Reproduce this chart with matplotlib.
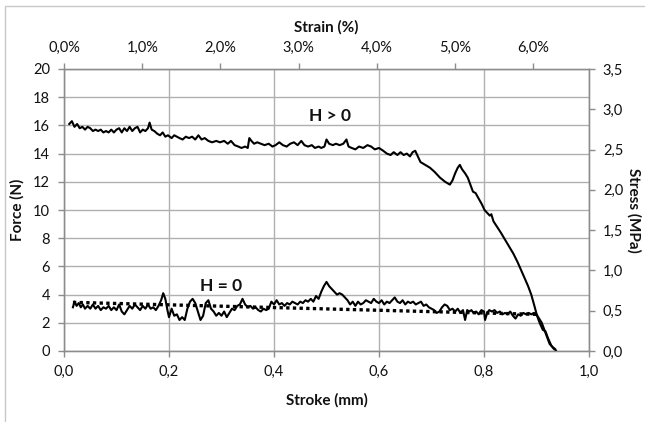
import matplotlib
matplotlib.use("Agg")
import matplotlib.pyplot as plt
from matplotlib.patches import Rectangle

# ---------------- data ----------------
hpos_x = [0.010, 0.015, 0.020, 0.025, 0.030, 0.035, 0.040, 0.045, 0.050, 0.055,
          0.060, 0.065, 0.070, 0.075, 0.080, 0.085, 0.090, 0.095, 0.100, 0.105,
          0.110, 0.115, 0.120, 0.125, 0.130, 0.135, 0.140, 0.145, 0.150, 0.155,
          0.160, 0.163, 0.167, 0.172, 0.178, 0.183, 0.188, 0.193, 0.198, 0.205,
          0.210, 0.215, 0.220, 0.226, 0.232, 0.238, 0.244, 0.250, 0.256, 0.262,
          0.268, 0.275, 0.282, 0.290, 0.297, 0.305, 0.312, 0.318, 0.325, 0.332,
          0.338, 0.345, 0.350, 0.353, 0.357, 0.362, 0.368, 0.375, 0.382, 0.390,
          0.397, 0.403, 0.410, 0.417, 0.424, 0.431, 0.438, 0.445, 0.452, 0.458,
          0.465, 0.472, 0.478, 0.485, 0.490, 0.496, 0.500, 0.505, 0.512, 0.518,
          0.525, 0.532, 0.538, 0.542, 0.548, 0.555, 0.562, 0.570, 0.578, 0.585,
          0.592, 0.600, 0.608, 0.615, 0.622, 0.628, 0.635, 0.641, 0.647, 0.653,
          0.659, 0.664, 0.669, 0.674, 0.679, 0.688, 0.697, 0.706, 0.716, 0.726,
          0.735, 0.740, 0.745, 0.750, 0.754, 0.758, 0.764, 0.769, 0.774, 0.779,
          0.784, 0.790, 0.796, 0.801, 0.806, 0.811, 0.814, 0.818, 0.825, 0.832,
          0.840, 0.848, 0.856, 0.864, 0.870, 0.877, 0.884, 0.890, 0.896, 0.901,
          0.906, 0.912, 0.917, 0.922, 0.928, 0.933, 0.937]
hpos_f = [16.1, 16.3, 15.9, 16.1, 15.8, 15.9, 15.7, 15.9, 15.8, 15.6,
          15.7, 15.6, 15.7, 15.5, 15.6, 15.5, 15.7, 15.5, 15.7, 15.8,
          15.5, 15.8, 15.6, 15.9, 15.6, 15.8, 15.9, 15.5, 15.7, 15.6,
          15.8, 16.2, 15.7, 15.6, 15.4, 15.3, 15.5, 15.2, 15.3, 15.1,
          15.3, 15.2, 15.1, 15.0, 15.2, 15.1, 15.2, 15.0, 15.3, 15.0,
          15.1, 14.9, 14.8, 14.9, 14.8, 14.9, 14.7, 14.9, 14.6, 14.5,
          14.4, 14.5, 14.4, 15.1, 14.9, 14.7, 14.8, 14.7, 14.6, 14.7,
          14.5, 14.6, 14.8, 14.6, 14.5, 14.7, 14.8, 14.6, 14.9, 14.6,
          14.5, 14.6, 14.4, 14.5, 14.4, 14.5, 15.0, 14.7, 14.6, 14.7,
          14.6, 14.7, 15.0, 14.5, 14.4, 14.3, 14.5, 14.4, 14.6, 14.5,
          14.3, 14.4, 14.2, 14.0, 13.9, 14.1, 13.9, 14.1, 13.9, 14.0,
          13.8, 14.1, 14.2, 13.8, 13.4, 13.2, 13.0, 12.7, 12.3, 12.0,
          11.8, 12.1, 12.6, 13.0, 13.2, 12.9, 12.6, 12.3, 11.8, 11.3,
          11.2, 10.8, 10.4, 10.0, 9.8, 9.6, 9.7, 9.2, 8.8, 8.4,
          7.9, 7.4, 6.9, 6.3, 5.8, 5.2, 4.6, 4.0, 3.2, 2.5,
          2.0, 1.5, 1.4, 0.9, 0.4, 0.15, 0.05]

hzero_x = [0.017, 0.020, 0.024, 0.028, 0.032, 0.036, 0.040, 0.045, 0.050, 0.055,
           0.060, 0.065, 0.070, 0.075, 0.080, 0.085, 0.090, 0.095, 0.100, 0.105,
           0.110, 0.115, 0.120, 0.125, 0.130, 0.135, 0.140, 0.145, 0.150, 0.155,
           0.160, 0.165, 0.170, 0.175, 0.180, 0.185, 0.189, 0.193, 0.197, 0.200,
           0.205, 0.210, 0.215, 0.220, 0.225, 0.230, 0.235, 0.240, 0.245, 0.250,
           0.255, 0.260, 0.265, 0.270, 0.275, 0.280, 0.285, 0.290, 0.295, 0.300,
           0.305, 0.310, 0.315, 0.320, 0.325, 0.330, 0.335, 0.340, 0.345, 0.350,
           0.355, 0.360, 0.365, 0.370, 0.375, 0.380, 0.385, 0.390, 0.395, 0.400,
           0.405, 0.410, 0.415, 0.420, 0.425, 0.430, 0.435, 0.440, 0.445, 0.450,
           0.455, 0.460, 0.465, 0.470, 0.475, 0.480, 0.485, 0.490, 0.495, 0.500,
           0.505, 0.510, 0.515, 0.520, 0.525, 0.530, 0.535, 0.540, 0.545, 0.550,
           0.555, 0.560, 0.565, 0.570, 0.575, 0.580, 0.585, 0.590, 0.595, 0.600,
           0.605, 0.610, 0.615, 0.620, 0.625, 0.630, 0.635, 0.640, 0.645, 0.650,
           0.655, 0.660, 0.665, 0.670, 0.675, 0.680, 0.685, 0.690, 0.695, 0.700,
           0.705, 0.710, 0.715, 0.720, 0.725, 0.730, 0.735, 0.740, 0.745, 0.750,
           0.755, 0.760, 0.764, 0.768, 0.772, 0.776, 0.780, 0.785, 0.790, 0.795,
           0.800, 0.802, 0.806, 0.810, 0.815, 0.820, 0.825, 0.830, 0.835, 0.840,
           0.845, 0.850, 0.855, 0.860, 0.865, 0.870, 0.875, 0.880, 0.885, 0.890,
           0.895, 0.900, 0.905, 0.910, 0.915, 0.920, 0.925, 0.930, 0.935]
hzero_f = [3.1, 3.5, 3.2, 3.4, 3.1, 3.3, 3.0, 3.2, 3.0, 3.3,
           3.0, 3.2, 2.9, 3.1, 3.0, 3.2, 2.9, 3.1, 2.9, 3.3,
           2.8, 2.6, 2.9, 3.2, 3.0, 3.3, 3.1, 2.9, 3.2, 3.0,
           3.3, 3.0, 3.1, 2.9, 3.2, 3.6, 4.1, 3.7, 2.9, 2.4,
           3.0, 2.5, 2.6, 2.2, 2.4, 2.2, 3.0, 3.5, 3.7, 3.4,
           2.8, 2.2, 2.5, 3.4, 3.6, 3.0, 2.8, 2.5, 2.7, 2.5,
           2.8, 2.4, 2.7, 3.0, 2.9, 3.2, 3.3, 3.7, 3.3, 3.1,
           3.2, 3.0, 3.1, 2.9, 2.8, 3.0, 2.9, 3.0, 3.5, 3.3,
           3.6, 3.3, 3.4, 3.2, 3.4, 3.3, 3.5, 3.4, 3.3, 3.5,
           3.4, 3.6, 3.5, 3.7, 3.5, 3.9, 3.7, 4.2, 4.6, 4.9,
           4.6, 4.4, 4.2, 4.0, 4.1, 4.0, 3.8, 3.6, 3.3, 3.5,
           3.2, 3.5, 3.3, 3.4, 3.6, 3.5, 3.4, 3.7, 3.5, 3.4,
           3.6, 3.3, 3.5, 3.4, 3.6, 3.8, 3.5, 3.4, 3.6, 3.3,
           3.5, 3.4, 3.5, 3.3, 3.4, 3.5, 3.2, 3.3, 3.1, 3.0,
           2.9, 2.7, 2.8, 3.1, 3.3, 3.2, 2.9, 3.0, 2.8, 3.0,
           2.7, 2.9, 2.2, 2.9, 2.8, 2.9, 2.7, 2.8, 2.6, 2.9,
           2.8, 2.2, 2.7, 2.9, 2.8, 2.9, 2.7, 2.8, 2.6, 2.7,
           2.6, 2.8, 2.5, 2.3, 2.6, 2.5, 2.7, 2.6, 2.7, 2.6,
           2.7, 2.6, 2.3, 2.0, 1.5, 1.0, 0.5, 0.3, 0.15]

trend_x = [0.017, 0.900]
trend_f = [3.45, 2.60]

force_ticks = [0, 2, 4, 6, 8, 10, 12, 14, 16, 18, 20]
stroke_ticks = [0.0, 0.2, 0.4, 0.6, 0.8, 1.0]
stress_ticks = [0.0, 0.5, 1.0, 1.5, 2.0, 2.5, 3.0, 3.5]
strain_ticks = [0, 1, 2, 3, 4, 5, 6]
strain_max = 6.71   # strain (%) at stroke = 1.0 mm
stress_max = 3.5    # stress (MPa) at force = 20 N

# ---------------- style ----------------
plt.rcParams['font.family'] = ['Lato', 'DejaVu Sans']
GRID = '#b0b0b0'
AXC = '#8c8c8c'
TXT = '#111111'
FS = 10.5

fig = plt.figure(figsize=(6.45, 4.22), dpi=100)
fig.patches.append(Rectangle((5 / 645, -0.2), 1.2, 1.2 - 6 / 422,
                             transform=fig.transFigure, fill=False,
                             edgecolor='#c8c8c8', lw=1.0))
ax = fig.add_axes([64 / 645, 1 - 351 / 422, 525 / 645, 282 / 422])

ax.plot(hpos_x, hpos_f, color='black', lw=1.5, zorder=5)
ax.plot(hzero_x, hzero_f, color='black', lw=1.5, zorder=5)
ax.plot(trend_x, trend_f, color='black', lw=2.4, linestyle=(0, (1, 1)), zorder=4)

ax.set_xlim(0, 1.0)
ax.set_ylim(0, 20)
ax.set_xticks(stroke_ticks)
ax.set_xticklabels([f"{v:.1f}".replace('.', ',') for v in stroke_ticks])
ax.set_yticks(force_ticks)
ax.set_yticklabels([str(v) for v in force_ticks])
ax.grid(True, color=GRID, lw=1.0)
ax.set_axisbelow(True)

ax.set_xlabel('Stroke (mm)', fontsize=11, fontweight='bold', color=TXT, labelpad=10)
ax.set_ylabel('Force (N)', fontsize=11, fontweight='bold', color=TXT, labelpad=6)

for sp in ['left', 'bottom', 'right', 'top']:
    ax.spines[sp].set_color(AXC)
    ax.spines[sp].set_linewidth(1.0)
ax.tick_params(axis='both', direction='out', length=4, width=1.0, color=AXC,
               labelsize=FS, labelcolor=TXT, pad=6)

ax.text(0.507, 16.7, 'H > 0', fontsize=12.5, fontweight='bold', ha='center', va='center', color=TXT)
ax.text(0.30, 4.6, 'H = 0', fontsize=12.5, fontweight='bold', ha='center', va='center', color=TXT)

# right axis: stress
axr = ax.twinx()
axr.set_ylim(0, stress_max)
axr.set_yticks(stress_ticks)
axr.set_yticklabels([f"{v:.1f}".replace('.', ',') for v in stress_ticks])
axr.tick_params(axis='y', direction='out', length=4, width=1.0, color=AXC,
                labelsize=FS, labelcolor=TXT, pad=6)
axr.set_ylabel('Stress (MPa)', fontsize=11, fontweight='bold', color=TXT,
               rotation=270, labelpad=13)
for sp in axr.spines.values():
    sp.set_color(AXC)

# top axis: strain
axt = ax.twiny()
axt.set_xlim(0, strain_max)
axt.set_xticks(strain_ticks)
axt.set_xticklabels([f"{v:.1f}%".replace('.', ',') for v in strain_ticks])
axt.tick_params(axis='x', direction='out', length=4, width=1.0, color=AXC,
                labelsize=FS, labelcolor=TXT, pad=6)
axt.set_xlabel('Strain (%)', fontsize=11, fontweight='bold', color=TXT, labelpad=7)
for sp in axt.spines.values():
    sp.set_color(AXC)

fig.savefig('out.png', dpi=100)
